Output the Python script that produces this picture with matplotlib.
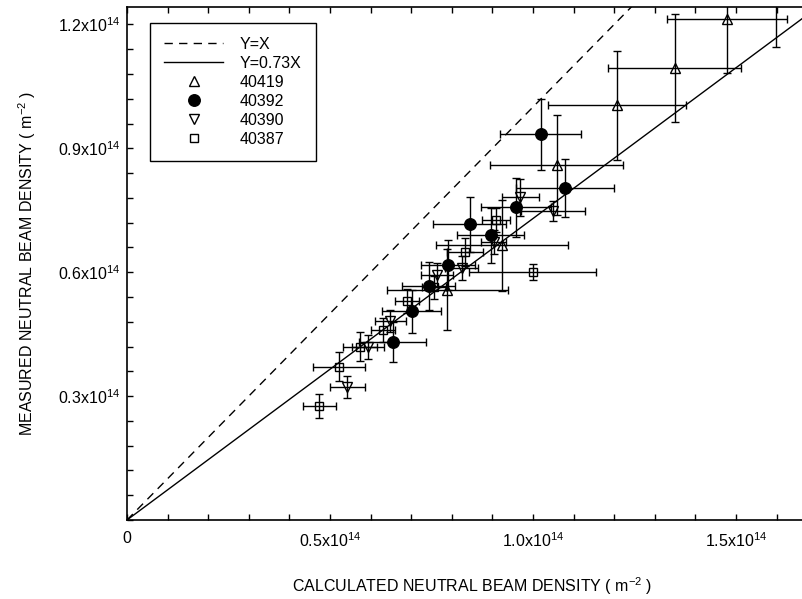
import matplotlib
matplotlib.use('Agg')
import matplotlib.pyplot as plt
from matplotlib.lines import Line2D
from matplotlib.ticker import FixedLocator, MultipleLocator

plt.rcParams['font.family'] = ['Liberation Sans', 'DejaVu Sans']
plt.rcParams['mathtext.fontset'] = 'custom'
plt.rcParams['mathtext.rm'] = 'Liberation Sans'
plt.rcParams['mathtext.it'] = 'Liberation Sans:italic'
plt.rcParams['mathtext.bf'] = 'Liberation Sans:bold'

# values in units of 1e14 m^-2
x_40419 = [0.789, 0.923, 1.058, 1.208, 1.349, 1.478, 1.598]
y_40419 = [0.557, 0.665, 0.860, 1.004, 1.094, 1.212, 1.273]
xe_40419 = [0.149, 0.163, 0.164, 0.170, 0.164, 0.148, 0.150]
ye_40419 = [0.098, 0.111, 0.121, 0.132, 0.131, 0.129, 0.127]

x_40392 = [0.654, 0.701, 0.743, 0.791, 0.844, 0.896, 0.959, 1.019, 1.078]
y_40392 = [0.431, 0.505, 0.566, 0.617, 0.716, 0.689, 0.757, 0.934, 0.804]
xe_40392 = [0.082, 0.072, 0.066, 0.066, 0.090, 0.083, 0.086, 0.100, 0.121]
ye_40392 = [0.048, 0.053, 0.058, 0.061, 0.066, 0.066, 0.071, 0.086, 0.071]

x_40390 = [0.543, 0.594, 0.649, 0.763, 0.824, 0.903, 0.969, 1.049]
y_40390 = [0.322, 0.420, 0.482, 0.593, 0.610, 0.672, 0.781, 0.749]
xe_40390 = [0.043, 0.040, 0.039, 0.040, 0.040, 0.030, 0.045, 0.078]
ye_40390 = [0.027, 0.029, 0.027, 0.029, 0.029, 0.029, 0.044, 0.024]

x_40387 = [0.474, 0.523, 0.574, 0.631, 0.689, 0.756, 0.833, 0.909, 0.999]
y_40387 = [0.275, 0.371, 0.420, 0.460, 0.531, 0.563, 0.649, 0.726, 0.601]
xe_40387 = [0.040, 0.064, 0.042, 0.030, 0.030, 0.030, 0.045, 0.034, 0.156]
ye_40387 = [0.029, 0.035, 0.036, 0.029, 0.029, 0.029, 0.034, 0.029, 0.020]

fit_slope = 0.73
line_x = [0.0, 1.8]

x_major = [0, 0.5, 1.0, 1.5]
x_labels = ['0', '0.5x10$^{14}$', '1.0x10$^{14}$', '1.5x10$^{14}$']
y_major = [0.3, 0.6, 0.9, 1.2]
y_labels = ['0.3x10$^{14}$', '0.6x10$^{14}$', '0.9x10$^{14}$', '1.2x10$^{14}$']

W, H = 803, 599
fig = plt.figure(figsize=(W / 100, H / 100), dpi=100)
left_px, top_px, bottom_px = 127, 7, 520
xmax = 1.7
sx, sy = 406.0, 413.0
width_px = xmax * sx
ax = fig.add_axes([left_px / W, (H - bottom_px) / H, width_px / W, (bottom_px - top_px) / H])
ax.set_xlim(0, xmax)
ax.set_ylim(0, (bottom_px - top_px) / sy)

ax.plot(line_x, line_x, color='k', lw=1.0, ls=(0, (6, 4.5)))
ax.plot(line_x, [fit_slope * v for v in line_x], color='k', lw=1.0)

eb_kw = dict(ecolor='k', elinewidth=1.0, capsize=3, capthick=1.0, ls='none',
             color='k', mec='k')
ax.errorbar(x_40387, y_40387, xerr=xe_40387, yerr=ye_40387, marker='s', ms=6.3,
            mfc='none', mew=1.0, **eb_kw)
ax.errorbar(x_40390, y_40390, xerr=xe_40390, yerr=ye_40390, marker='v', ms=7,
            mfc='none', mew=1.0, **eb_kw)
ax.errorbar(x_40392, y_40392, xerr=xe_40392, yerr=ye_40392, marker='o', ms=8.3,
            mfc='k', mew=1.0, **eb_kw)
ax.errorbar(x_40419, y_40419, xerr=xe_40419, yerr=ye_40419, marker='^', ms=7,
            mfc='none', mew=1.0, **eb_kw)

ax.xaxis.set_major_locator(FixedLocator(x_major))
ax.set_xticklabels(x_labels)
ax.xaxis.set_minor_locator(MultipleLocator(0.1))
ax.yaxis.set_major_locator(FixedLocator(y_major))
ax.set_yticklabels(y_labels)
ax.yaxis.set_minor_locator(MultipleLocator(0.06))

ax.tick_params(which='both', direction='in', top=True, right=False, length=4.5, width=1.0,
               labelsize=11.5)
ax.tick_params(axis='x', which='major', pad=8)
ax.tick_params(axis='y', which='major', pad=5)
for s in ['left', 'bottom', 'top']:
    ax.spines[s].set_linewidth(1.2)
ax.spines['right'].set_visible(False)

ax.set_xlabel('CALCULATED NEUTRAL BEAM DENSITY ( m$^{-2}$ )', fontsize=11.5, labelpad=18)
ax.set_ylabel('MEASURED NEUTRAL BEAM DENSITY ( m$^{-2}$ )', fontsize=11.5, labelpad=14)

handles = [
    Line2D([], [], color='k', lw=1.0, ls=(0, (6, 4.5))),
    Line2D([], [], color='k', lw=1.0),
    Line2D([], [], color='k', marker='^', ms=7, mfc='none', ls='none'),
    Line2D([], [], color='k', marker='o', ms=8.3, mfc='k', ls='none'),
    Line2D([], [], color='k', marker='v', ms=7, mfc='none', ls='none'),
    Line2D([], [], color='k', marker='s', ms=6.3, mfc='none', ls='none'),
]
labels = ['Y=X', 'Y=0.73X', '40419', '40392', '40390', '40387']
leg = ax.legend(handles, labels, loc='upper left',
                bbox_to_anchor=((149.7 - left_px) / width_px, 1 - (22.7 - top_px) / (bottom_px - top_px)),
                borderaxespad=0, fontsize=11.5, handlelength=3.7, handletextpad=1.05,
                labelspacing=0.25, borderpad=0.9, fancybox=False, framealpha=1,
                edgecolor='k')
leg.get_frame().set_linewidth(1.0)

fig.savefig('out.png', dpi=100)
